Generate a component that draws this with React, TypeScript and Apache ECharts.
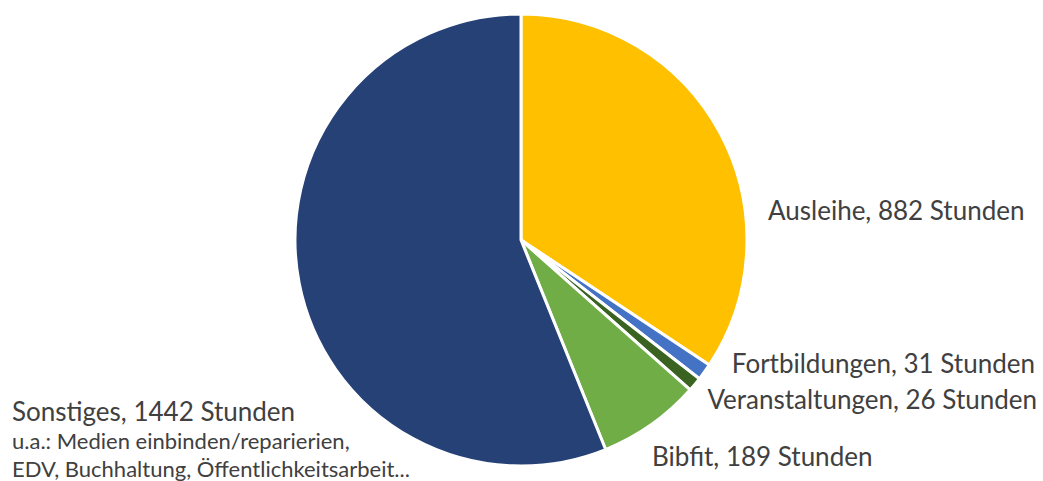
import React, { useEffect, useRef } from "react";
import * as echarts from "echarts";

const categories = ["Ausleihe", "Fortbildungen", "Veranstaltungen", "Bibfit", "Sonstiges"];
const values = [882, 31, 26, 189, 1442];
const colors = ["#FFC000", "#4472C4", "#3A6321", "#70AD47", "#254175"];
const unit = "Stunden";
const sonstigesNote = ["u.a.: Medien einbinden/reparierien,", "EDV, Buchhaltung, Öffentlichkeitsarbeit..."];

// label anchor layout (x, y, align, verticalAlign)
const labelLayouts = [
  { x: 768, y: 210, align: "left", verticalAlign: "middle" },
  { x: 1035, y: 363, align: "right", verticalAlign: "middle" },
  { x: 1037, y: 399, align: "right", verticalAlign: "middle" },
  { x: 652, y: 456, align: "left", verticalAlign: "middle" },
  { x: 12, y: 396, align: "left", verticalAlign: "top" },
];

export default function App() {
  const ref = useRef<HTMLDivElement>(null);
  useEffect(() => {
    document.body.style.margin = "0";
    const chart = echarts.init(ref.current!, null, { renderer: "svg" });
    const font = "Lato, 'Open Sans', sans-serif";
    chart.setOption({
      animation: false,
      backgroundColor: "#ffffff",
      series: [
        {
          type: "pie",
          center: [521, 240],
          radius: 226,
          startAngle: 90,
          clockwise: true,
          avoidLabelOverlap: false,
          itemStyle: { borderColor: "#ffffff", borderWidth: 3 },
          labelLine: { show: false },
          label: {
            show: true,
            position: "outside",
            fontFamily: font,
            fontSize: 26,
            color: "#404040",
            formatter: (p: any) => {
              const main = `${p.name}, ${p.value} ${unit}`;
              if (p.dataIndex === 4) {
                return `{main|${main}}\n` + sonstigesNote.map((s) => `{sub|${s}}`).join("\n");
              }
              return main;
            },
            rich: {
              main: { fontFamily: font, fontSize: 26, color: "#404040", lineHeight: 30 },
              sub: { fontFamily: font, fontSize: 22, color: "#404040", lineHeight: 28 },
            },
          },
          labelLayout: (params: any) => {
            const l = labelLayouts[params.dataIndex];
            return { x: l.x, y: l.y, align: l.align, verticalAlign: l.verticalAlign };
          },
          data: categories.map((c, i) => ({
            name: c,
            value: values[i],
            itemStyle: { color: colors[i] },
          })),
        },
      ],
    });
    return () => chart.dispose();
  }, []);
  return <div ref={ref} style={{ width: 1043, height: 481 }} />;
}
